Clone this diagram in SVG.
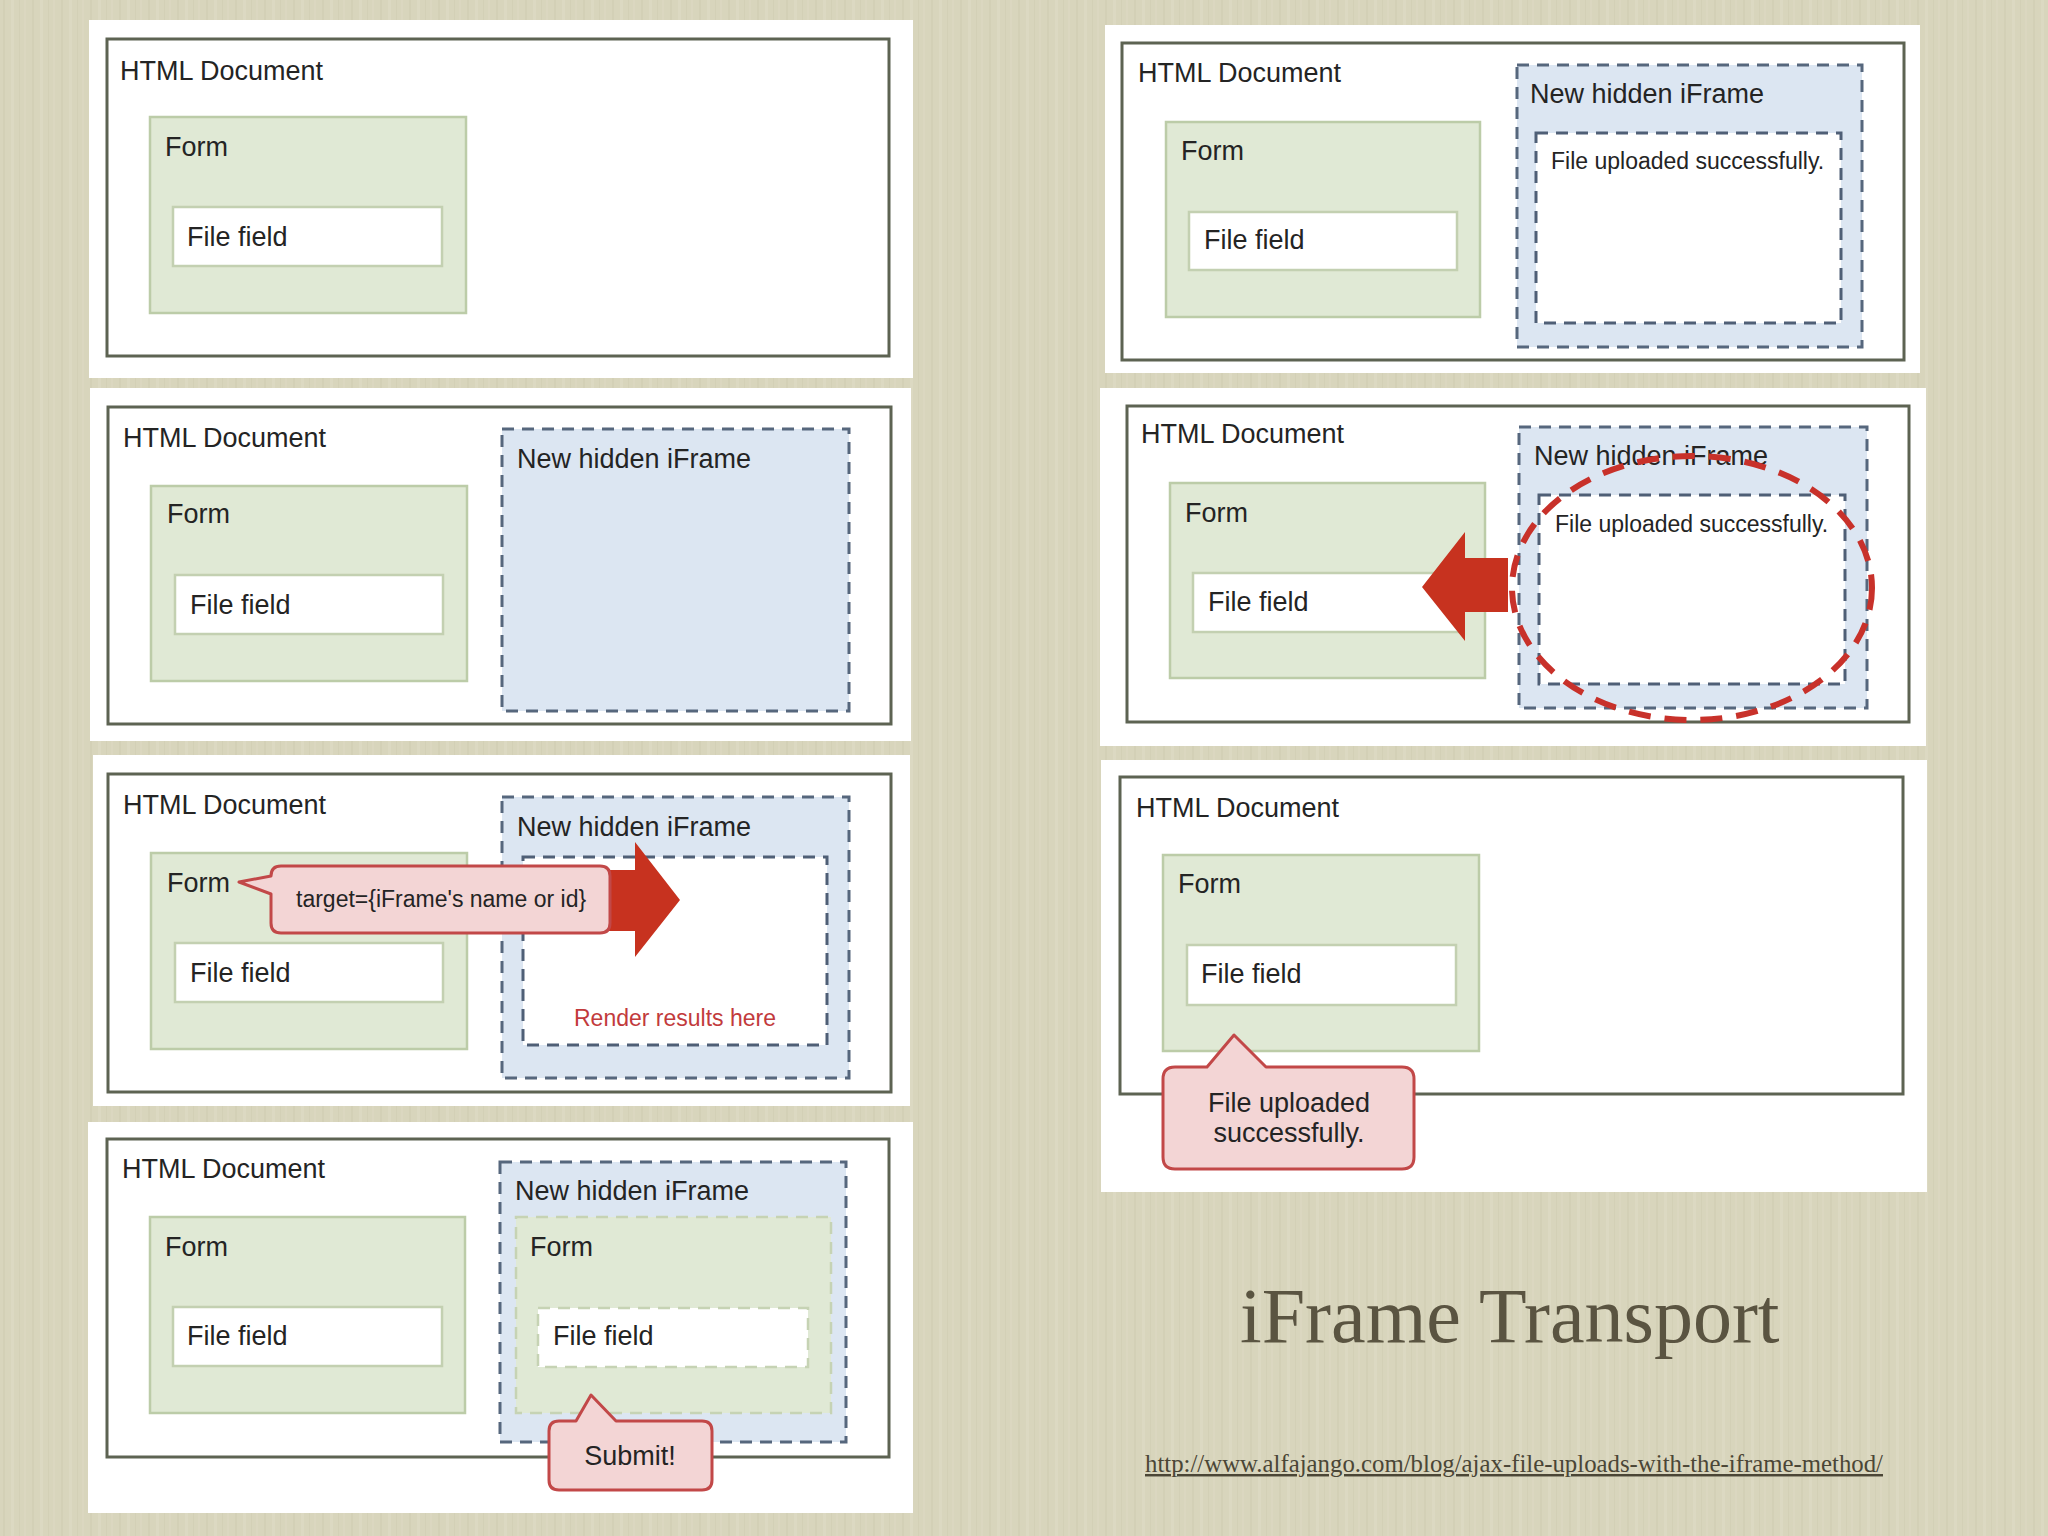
<svg xmlns="http://www.w3.org/2000/svg" width="2048" height="1536" viewBox="0 0 2048 1536">
  <defs>
    <pattern id="tex" x="0" y="0" width="29" height="1536" patternUnits="userSpaceOnUse">
      <rect x="0" y="0" width="29" height="1536" fill="#d8d5bc"/>
      <rect x="3" y="0" width="2" height="1536" fill="#d0cdb2" opacity="0.6"/>
      <rect x="11" y="0" width="3" height="1536" fill="#dfdcc6" opacity="0.6"/>
      <rect x="19" y="0" width="1" height="1536" fill="#cecbb0" opacity="0.5"/>
      <rect x="24" y="0" width="2" height="1536" fill="#dddac3" opacity="0.5"/>
    </pattern>
    <style>
      .panel { fill: #ffffff; }
      .doc { fill: #ffffff; stroke: #5d6352; stroke-width: 3; }
      .form { fill: #e0e9d5; stroke: #bccca8; stroke-width: 2.5; }
      .field { fill: #ffffff; stroke: #c3d0b1; stroke-width: 2.5; }
      .iframe { fill: #dce6f2; stroke: #56677d; stroke-width: 3; stroke-dasharray: 12 8; }
      .inner { fill: #ffffff; stroke: #4f5f76; stroke-width: 3; stroke-dasharray: 12 8; }
      .dform { fill: #e0e9d5; stroke: #c6d3b4; stroke-width: 2.5; stroke-dasharray: 12 8; }
      .dfield { fill: #ffffff; stroke: #c6d3b4; stroke-width: 2.5; stroke-dasharray: 12 8; }
      .lbl { font-family: 'Liberation Sans', Arial, sans-serif; font-size: 27px; fill: #242424; }
      .sm { font-size: 23px; }
      .red { fill: #c23a3c; }
      .callout { fill: #f3d5d5; stroke: #c24848; stroke-width: 3; stroke-linejoin: round; }
      .arrow { fill: #c7321f; }
      .ring { fill: none; stroke: #c8312a; stroke-width: 6; stroke-dasharray: 22 14; }
      .title { font-family: 'Liberation Serif', 'Times New Roman', serif; font-size: 78px; fill: #5a5441; }
      .url { font-family: 'Liberation Serif', 'Times New Roman', serif; font-size: 24.5px; fill: #4b4636; text-decoration: underline; }
    </style>
  </defs>

  <rect x="0" y="0" width="2048" height="1536" fill="url(#tex)"/>

  <!-- Panel 1 -->
  <g id="panel1">
    <rect class="panel" x="89" y="20" width="824" height="358"/>
    <rect class="doc" x="107" y="39" width="782" height="317"/>
    <text class="lbl" x="120" y="80">HTML Document</text>
    <g id="p1-form">
      <rect class="form" x="150" y="117" width="316" height="196"/>
      <text class="lbl" x="165" y="156">Form</text>
    </g>
    <g id="p1-field">
      <rect class="field" x="173" y="207" width="269" height="59"/>
      <text class="lbl" x="187" y="246">File field</text>
    </g>
  </g>

  <!-- Panel 2 -->
  <g id="panel2">
    <rect class="panel" x="90" y="388" width="821" height="353"/>
    <rect class="doc" x="108" y="407" width="783" height="317"/>
    <text class="lbl" x="123" y="447">HTML Document</text>
    <g id="p2-iframe">
      <rect class="iframe" x="502" y="429" width="347" height="282"/>
      <text class="lbl" x="517" y="468">New hidden iFrame</text>
    </g>
    <g id="p2-form">
      <rect class="form" x="151" y="486" width="316" height="195"/>
      <text class="lbl" x="167" y="523">Form</text>
    </g>
    <g id="p2-field">
      <rect class="field" x="175" y="575" width="268" height="59"/>
      <text class="lbl" x="190" y="614">File field</text>
    </g>
  </g>

  <!-- Panel 3 -->
  <g id="panel3">
    <rect class="panel" x="93" y="755" width="817" height="351"/>
    <rect class="doc" x="108" y="774" width="783" height="318"/>
    <text class="lbl" x="123" y="814">HTML Document</text>
    <g id="p3-iframe">
      <rect class="iframe" x="502" y="797" width="347" height="281"/>
      <text class="lbl" x="517" y="836">New hidden iFrame</text>
      <rect class="inner" x="523" y="857" width="304" height="188"/>
      <text class="lbl sm red" x="675" y="1026" text-anchor="middle">Render results here</text>
    </g>
    <g id="p3-form">
      <rect class="form" x="151" y="853" width="316" height="196"/>
      <text class="lbl" x="167" y="892">Form</text>
    </g>
    <g id="p3-field">
      <rect class="field" x="175" y="943" width="268" height="59"/>
      <text class="lbl" x="190" y="982">File field</text>
    </g>
  </g>

  <!-- Panel 4 -->
  <g id="panel4">
    <rect class="panel" x="88" y="1122" width="825" height="391"/>
    <rect class="doc" x="107" y="1139" width="782" height="318"/>
    <text class="lbl" x="122" y="1178">HTML Document</text>
    <g id="p4-form">
      <rect class="form" x="150" y="1217" width="315" height="196"/>
      <text class="lbl" x="165" y="1256">Form</text>
    </g>
    <g id="p4-field">
      <rect class="field" x="173" y="1307" width="269" height="59"/>
      <text class="lbl" x="187" y="1345">File field</text>
    </g>
    <g id="p4-iframe">
      <rect class="iframe" x="500" y="1162" width="346" height="280"/>
      <text class="lbl" x="515" y="1200">New hidden iFrame</text>
    </g>
    <g id="p4-iform">
      <rect class="dform" x="516" y="1217" width="315" height="196"/>
      <text class="lbl" x="530" y="1256">Form</text>
    </g>
    <g id="p4-ifield">
      <rect class="dfield" x="538" y="1308" width="270" height="59"/>
      <text class="lbl" x="553" y="1345">File field</text>
    </g>
  </g>

  <!-- Right panel 1 -->
  <g id="panel5">
    <rect class="panel" x="1105" y="25" width="815" height="348"/>
    <rect class="doc" x="1122" y="43" width="782" height="317"/>
    <text class="lbl" x="1138" y="82">HTML Document</text>
    <g id="p5-form">
      <rect class="form" x="1166" y="122" width="314" height="195"/>
      <text class="lbl" x="1181" y="160">Form</text>
    </g>
    <g id="p5-field">
      <rect class="field" x="1189" y="212" width="268" height="58"/>
      <text class="lbl" x="1204" y="249">File field</text>
    </g>
    <g id="p5-iframe">
      <rect class="iframe" x="1517" y="65" width="345" height="282"/>
      <text class="lbl" x="1530" y="103">New hidden iFrame</text>
      <rect class="inner" x="1536" y="133" width="305" height="190"/>
      <text class="lbl sm" x="1551" y="169">File uploaded successfully.</text>
    </g>
  </g>

  <!-- Right panel 2 -->
  <g id="panel6">
    <rect class="panel" x="1100" y="388" width="826" height="358"/>
    <rect class="doc" x="1127" y="406" width="782" height="316"/>
    <text class="lbl" x="1141" y="443">HTML Document</text>
    <g id="p6-form">
      <rect class="form" x="1170" y="483" width="315" height="195"/>
      <text class="lbl" x="1185" y="522">Form</text>
    </g>
    <g id="p6-field">
      <rect class="field" x="1193" y="573" width="269" height="59"/>
      <text class="lbl" x="1208" y="611">File field</text>
    </g>
    <g id="p6-iframe">
      <rect class="iframe" x="1519" y="427" width="348" height="281"/>
      <text class="lbl" x="1534" y="465">New hidden iFrame</text>
      <rect class="inner" x="1539" y="495" width="306" height="189"/>
      <text class="lbl sm" x="1555" y="532">File uploaded successfully.</text>
    </g>
  </g>

  <!-- Right panel 3 -->
  <g id="panel7">
    <rect class="panel" x="1101" y="760" width="826" height="432"/>
    <rect class="doc" x="1120" y="777" width="783" height="317"/>
    <text class="lbl" x="1136" y="817">HTML Document</text>
    <g id="p7-form">
      <rect class="form" x="1163" y="855" width="316" height="196"/>
      <text class="lbl" x="1178" y="893">Form</text>
    </g>
    <g id="p7-field">
      <rect class="field" x="1187" y="945" width="269" height="60"/>
      <text class="lbl" x="1201" y="983">File field</text>
    </g>
  </g>

  <!-- Connectors: arrows, highlight ring and callouts -->
  <g id="connectors">
    <path class="arrow" d="M 600 870 H 635 V 842 L 680 900 L 635 957 V 931 H 600 Z"/>
    <path class="callout" d="M 281 866 H 600 Q 610 866 610 876 V 923 Q 610 933 600 933 H 281 Q 271 933 271 923 V 894 L 239 882 L 271 876 Q 271 866 281 866 Z"/>
    <text class="lbl sm" x="296" y="907" fill="#333">target={iFrame's name or id}</text>

    <path class="callout" d="M 559 1421 H 576 L 591 1395 L 616 1421 H 702 Q 712 1421 712 1431 V 1480 Q 712 1490 702 1490 H 559 Q 549 1490 549 1480 V 1431 Q 549 1421 559 1421 Z"/>
    <text class="lbl" x="630" y="1465" text-anchor="middle">Submit!</text>

    <path class="arrow" d="M 1508 558 H 1465 V 532 L 1422 587 L 1465 641 V 612 H 1508 Z"/>
    <ellipse class="ring" cx="1692" cy="588" rx="180" ry="132"/>

    <path class="callout" d="M 1175 1067 H 1207 L 1234 1035 L 1266 1067 H 1402 Q 1414 1067 1414 1079 V 1157 Q 1414 1169 1402 1169 H 1175 Q 1163 1169 1163 1157 V 1079 Q 1163 1067 1175 1067 Z"/>
    <text class="lbl" x="1289" y="1112" text-anchor="middle">File uploaded</text>
    <text class="lbl" x="1289" y="1142" text-anchor="middle">successfully.</text>
  </g>

  <text class="title" x="1240" y="1342">iFrame Transport</text>
  <text class="url" x="1145" y="1472" textLength="738" lengthAdjust="spacingAndGlyphs">http://www.alfajango.com/blog/ajax-file-uploads-with-the-iframe-method/</text>
</svg>
